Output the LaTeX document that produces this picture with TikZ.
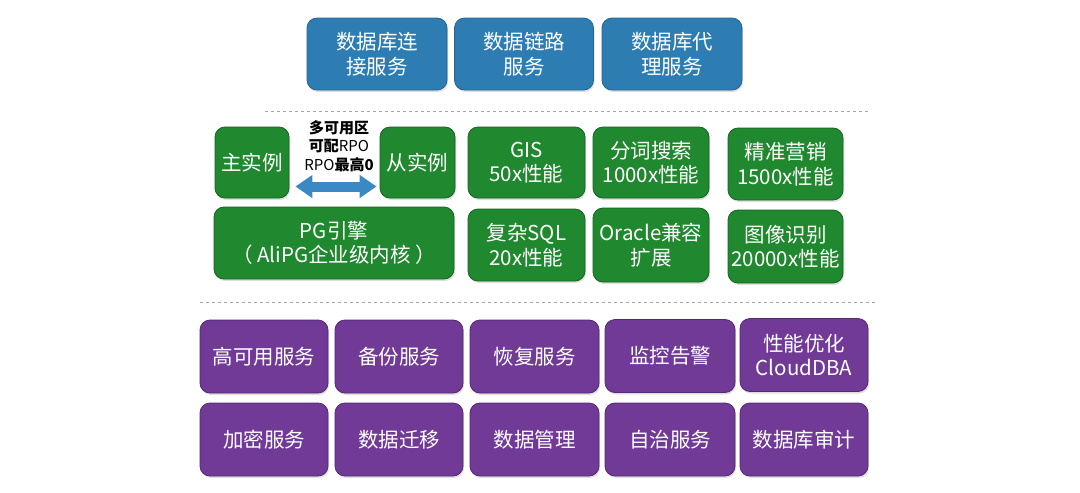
\documentclass[tikz,border=0pt]{standalone}
\usepackage{fontspec}
\newfontfamily\cjk{Noto Sans CJK SC}
\usetikzlibrary{shadows,arrows.meta}
\definecolor{bfill}{RGB}{46,125,178}
\definecolor{bdraw}{RGB}{36,100,148}
\definecolor{gfill}{RGB}{32,136,46}
\definecolor{gdraw}{RGB}{22,100,32}
\definecolor{pfill}{RGB}{112,58,150}
\definecolor{pdraw}{RGB}{86,40,118}
\definecolor{arr}{RGB}{58,136,196}
\tikzset{
  box/.style={rounded corners=10pt, text=white, align=center, inner sep=0pt,
    font=\cjk\fontsize{20.5}{24.5}\selectfont,
    drop shadow={opacity=0.25, shadow xshift=1pt, shadow yshift=-2pt}},
  bluebox/.style={box, fill=bfill, draw=bdraw, line width=0.8pt},
  greenbox/.style={box, fill=gfill, draw=gdraw, line width=0.8pt},
  purplebox/.style={box, fill=pfill, draw=pdraw, line width=0.8pt},
  sep/.style={draw=black!35, dashed, line width=0.8pt},
}
\begin{document}
\begin{tikzpicture}[x=1pt,y=-1pt]
\useasboundingbox (0,0) rectangle (1080,493);
% top blue
\node[bluebox, minimum width=140pt, minimum height=72pt] (t1) at (377,54) {数据库连\\接服务};
\node[bluebox, minimum width=139pt, minimum height=72pt] (t2) at (524,54) {数据链路\\服务};
\node[bluebox, minimum width=140pt, minimum height=72pt] (t3) at (672,54) {数据库代\\理服务};
\coordinate (l1a) at (265,111);
\coordinate (l1b) at (870,111);
\draw[sep] (l1a) -- (l1b);
% green
\node[greenbox, minimum width=74pt, minimum height=71pt] (m) at (252,162.5) {主实例};
\node[greenbox, minimum width=75pt, minimum height=71pt] (s) at (417.5,162.5) {从实例};
\node[greenbox, minimum width=117pt, minimum height=71pt] (gis) at (526.5,162.5) {GIS\\50x性能};
\node[greenbox, minimum width=116pt, minimum height=71pt] (fc) at (651,162.5) {分词搜索\\1000x性能};
\node[greenbox, minimum width=115pt, minimum height=72pt] (jz) at (785.5,164) {精准营销\\1500x性能};
\node[greenbox, minimum width=240pt, minimum height=72pt] (pg) at (334,243) {PG引擎\\（ AliPG企业级内核 ）};
\node[greenbox, minimum width=117pt, minimum height=72pt] (sql) at (526.5,245) {复杂SQL\\20x性能};
\node[greenbox, minimum width=116pt, minimum height=74pt] (ora) at (651,245) {Oracle兼容\\扩展};
\node[greenbox, minimum width=115pt, minimum height=73pt] (tx) at (785.5,246.5) {图像识别\\20000x性能};
\node[align=center, inner sep=0pt, font=\cjk\fontsize{15}{18.5}\selectfont] (rpo) at (339,146)
  {\textbf{多可用区}\\\textbf{可配}RPO\\RPO\textbf{最高0}};
\draw[arr, line width=10pt, {Triangle[width=22pt,length=17pt]}-{Triangle[width=22pt,length=17pt]}]
  ([xshift=6pt,yshift=-24pt]m.east) -- ([xshift=-3pt,yshift=-24pt]s.west);
\coordinate (l2a) at (200,302);
\coordinate (l2b) at (875,302);
\draw[sep] (l2a) -- (l2b);
% purple
\node[purplebox, minimum width=128pt, minimum height=73pt] (p1) at (264,356.5) {高可用服务};
\node[purplebox, minimum width=128pt, minimum height=73pt] (p2) at (399,356.5) {备份服务};
\node[purplebox, minimum width=129pt, minimum height=73pt] (p3) at (534.5,356.5) {恢复服务};
\node[purplebox, minimum width=130pt, minimum height=73pt] (p4) at (670,356) {监控告警};
\node[purplebox, minimum width=128pt, minimum height=73pt] (p5) at (804,355) {性能优化\\CloudDBA};
\node[purplebox, minimum width=128pt, minimum height=73pt] (q1) at (264,439.5) {加密服务};
\node[purplebox, minimum width=128pt, minimum height=73pt] (q2) at (399,439.5) {数据迁移};
\node[purplebox, minimum width=129pt, minimum height=73pt] (q3) at (534.5,439.5) {数据管理};
\node[purplebox, minimum width=130pt, minimum height=73pt] (q4) at (670,439.5) {自治服务};
\node[purplebox, minimum width=128pt, minimum height=73pt] (q5) at (804,439.5) {数据库审计};
\end{tikzpicture}
\end{document}
